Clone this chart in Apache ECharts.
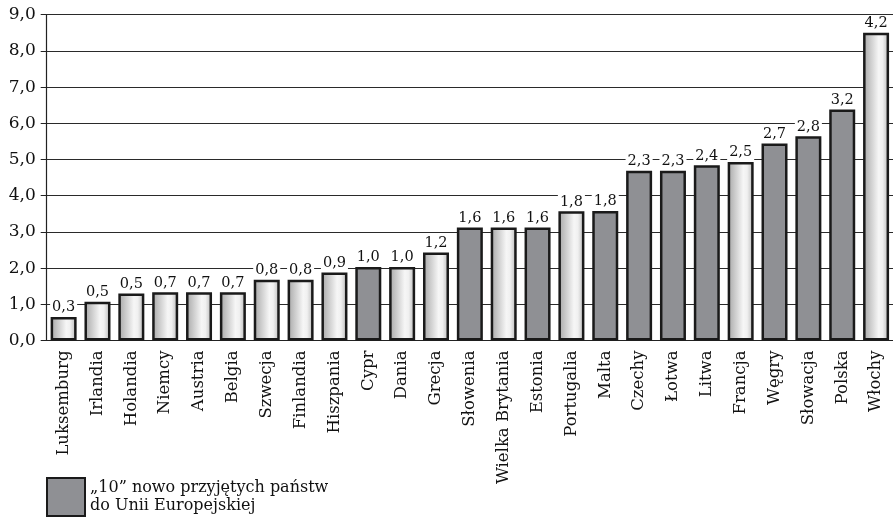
<!DOCTYPE html>
<html>
<head>
<meta charset="utf-8">
<script src="https://cdn.jsdelivr.net/npm/echarts@6/dist/echarts.min.js"></script>
<style>
  html, body { margin: 0; padding: 0; background: #fff; }
  #chart { width: 893px; height: 520px; }
</style>
</head>
<body>
<div id="chart"></div>
<script>
// kraje w kolejności z wykresu
const countries = ['Luksemburg', 'Irlandia', 'Holandia', 'Niemcy', 'Austria', 'Belgia', 'Szwecja', 'Finlandia',
  'Hiszpania', 'Cypr', 'Dania', 'Grecja', 'Słowenia', 'Wielka Brytania', 'Estonia', 'Portugalia', 'Malta',
  'Czechy', 'Łotwa', 'Litwa', 'Francja', 'Węgry', 'Słowacja', 'Polska', 'Włochy'];
// wysokości słupków odczytane ze skali osi
const barHeights = [0.65, 1.07, 1.30, 1.33, 1.33, 1.33, 1.68, 1.68, 1.88, 2.03, 2.03, 2.43, 3.12, 3.12, 3.12,
  3.57, 3.58, 4.69, 4.69, 4.84, 4.93, 5.44, 5.64, 6.38, 8.5];
// wartości opisane nad słupkami
const barLabels = ['0,3', '0,5', '0,5', '0,7', '0,7', '0,7', '0,8', '0,8', '0,9', '1,0', '1,0', '1,2', '1,6', '1,6',
  '1,6', '1,8', '1,8', '2,3', '2,3', '2,4', '2,5', '2,7', '2,8', '3,2', '4,2'];
// "10" nowo przyjętych państw
const newMembers = ['Cypr', 'Słowenia', 'Estonia', 'Malta', 'Czechy', 'Łotwa', 'Litwa', 'Węgry', 'Słowacja', 'Polska'];
const yTicks = [0, 1, 2, 3, 4, 5, 6, 7, 8, 9];
const legendName = '„10” nowo przyjętych państw\ndo Unii Europejskiej';

const FONT = 'DejaVu Serif';
const oldData = barHeights.map((v, i) => newMembers.includes(countries[i]) ? null : v);
const newData = barHeights.map((v, i) => newMembers.includes(countries[i]) ? v : null);

const lightFill = {
  type: 'linear', x: 0, y: 0, x2: 1, y2: 0,
  colorStops: [
    { offset: 0, color: '#a6a6a6' },
    { offset: 0.6, color: '#f6f6f6' },
    { offset: 0.75, color: '#f0f0f0' },
    { offset: 1, color: '#b5b5b5' }
  ]
};

const labelCfg = {
  show: true, position: 'top', distance: 2,
  fontFamily: FONT, fontSize: 14.5, color: '#111',
  backgroundColor: '#fff', padding: [0, 2],
  formatter: p => barLabels[p.dataIndex]
};

const chart = echarts.init(document.getElementById('chart'));
chart.setOption({
  animation: false,
  grid: { left: 46.7, right: -3, top: 14.7, bottom: 179.5, containLabel: false },
  legend: {
    data: [legendName],
    left: 46, top: 477, padding: 0,
    icon: 'rect', itemWidth: 38, itemHeight: 38, itemGap: 4,
    textStyle: { fontFamily: FONT, fontSize: 16, color: '#111', lineHeight: 18 }
  },
  xAxis: {
    type: 'category', data: countries,
    axisLine: { lineStyle: { color: '#222', width: 1.2 } },
    axisTick: { length: 5, lineStyle: { color: '#222' } },
    axisLabel: { rotate: 90, margin: 10, fontFamily: FONT, fontSize: 16.5, color: '#111', interval: 0 }
  },
  yAxis: {
    type: 'value', min: yTicks[0], max: yTicks[yTicks.length - 1], interval: 1,
    axisLine: { show: true, lineStyle: { color: '#222', width: 1.2 } },
    axisTick: { show: true, inside: false, length: 6, lineStyle: { color: '#222' } },
    axisLabel: { margin: 11, fontFamily: FONT, fontSize: 17, color: '#111',
      formatter: v => v.toFixed(1).replace('.', ',') },
    splitLine: { lineStyle: { color: '#2a2a2a', width: 1.2 } }
  },
  series: [
    {
      name: 'pozostałe', type: 'bar', data: oldData, barWidth: 26, barGap: '-100%',
      itemStyle: { color: lightFill, borderColor: '#1a1a1a', borderWidth: 2.5 },
      label: labelCfg
    },
    {
      name: legendName, type: 'bar', data: newData, barWidth: 26,
      itemStyle: { color: '#8f9094', borderColor: '#1a1a1a', borderWidth: 2.5 },
      label: labelCfg
    }
  ]
});
</script>
</body>
</html>
